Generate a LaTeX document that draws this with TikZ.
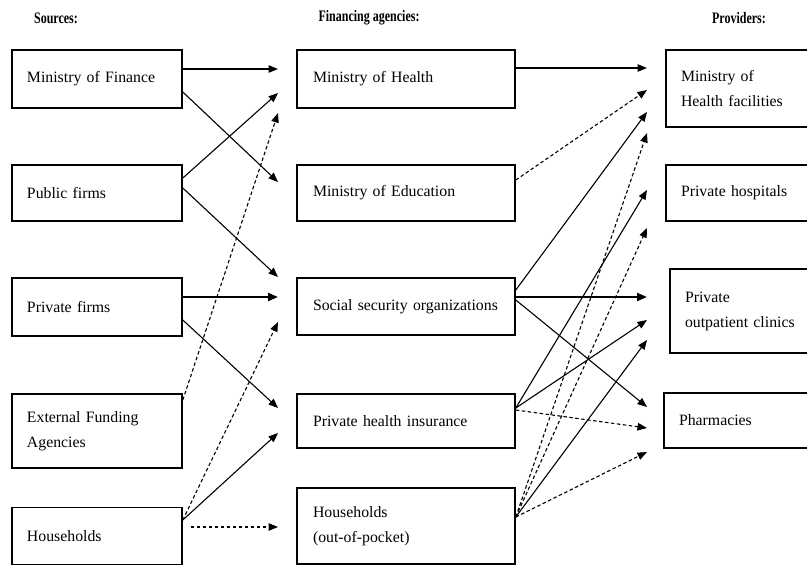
\documentclass[tikz,border=0pt]{standalone}
\usepackage{fontspec}
\setmainfont{Liberation Serif}
\usetikzlibrary{arrows.meta}
\tikzset{
  box/.style={draw, line width=1.6pt, rectangle, inner xsep=0pt, inner ysep=0pt, font=\fontsize{15.8}{25}\selectfont},
  lbox/.style={box, minimum width=170pt, text width=140pt, align=left},
  mbox/.style={box, minimum width=218pt, text width=186pt, align=left},
  rbox/.style={box, minimum width=170pt, text width=140pt, align=left},
  head/.style={font=\fontsize{16}{18}\selectfont\bfseries},
  flow/.style={line width=1.1pt, -{Triangle[length=9.5pt,width=7.5pt]}},
  thick flow/.style={line width=2.2pt, -{Triangle[length=10pt,width=8pt]}},
  dflow/.style={flow, dash pattern=on 3.5pt off 2.5pt},
}
\begin{document}
\begin{tikzpicture}[x=1pt,y=-1pt]
\useasboundingbox (0,0) rectangle (807,566);
\clip (0,0) rectangle (807,566);
% headings
\node[head] (h1) at (56,18) {\scalebox{0.75}[1]{Sources:}};
\node[head] (h2) at (369,18) {\scalebox{0.75}[1]{Financing agencies:}};
\node[head] (h3) at (739,18) {\scalebox{0.75}[1]{Providers:}};
% sources
\node[lbox, minimum height=58pt] (mf) at (97,79) {Ministry of Finance};
\node[lbox, minimum height=56pt] (pubf) at (97,193) {Public firms};
\node[lbox, minimum height=58pt] (prif) at (97,307) {Private firms};
\node[lbox, minimum height=74pt] (ext) at (97,431) {External Funding\\Agencies};
\node[lbox, minimum height=57pt] (hh) at (97,536) {Households};
% financing agencies
\node[mbox, minimum height=58pt] (mh) at (406,79) {Ministry of Health};
\node[mbox, minimum height=56pt] (me) at (406,193) {Ministry of Education};
\node[mbox, minimum height=57pt] (ss) at (406,306.5) {Social security organizations};
\node[mbox, minimum height=54pt] (phi) at (406,421) {Private health insurance};
\node[mbox, minimum height=76pt] (hoop) at (406,526) {Households\\(out-of-pocket)};
% providers
\node[rbox, minimum height=77pt] (mhf) at (751,88.5) {Ministry of\\Health facilities};
\node[rbox, minimum height=56pt] (ph) at (751,193) {Private hospitals};
\node[rbox, minimum height=84pt] (poc) at (755,311) {Private\\outpatient clinics};
\node[rbox, minimum height=55pt] (pharm) at (749,420.5) {Pharmacies};
% arrow tips (free ends)
\coordinate (a1) at (278,69);
\coordinate (a2) at (278,182);
\coordinate (a3) at (278,93);
\coordinate (a4) at (278,277);
\coordinate (a5) at (278,297);
\coordinate (a6) at (278,408);
\coordinate (a7) at (278,113);
\coordinate (a8) at (278,322);
\coordinate (a9) at (278,433);
\coordinate (a10) at (278,527);
\coordinate (b1) at (647,68);
\coordinate (b2) at (647,90);
\coordinate (b3) at (647,112);
\coordinate (b4) at (647,133);
\coordinate (b5) at (647,190);
\coordinate (b6) at (647,228);
\coordinate (b7) at (647,297);
\coordinate (b8) at (647,320);
\coordinate (b9) at (647,340);
\coordinate (b10) at (647,407);
\coordinate (b11) at (647,428);
\coordinate (b12) at (647,452);
% sources -> financing agencies
\draw[flow] ([yshift=10pt]mf.east) -- (a1);
\draw[flow] ([yshift=-13pt]mf.east) -- (a2);
\draw[flow] ([yshift=15pt]pubf.east) -- (a3);
\draw[flow] ([yshift=5pt]pubf.east) -- (a4);
\draw[thick flow] ([yshift=10pt]prif.east) -- (a5);
\draw[flow] ([yshift=-13pt]prif.east) -- (a6);
\draw[dflow] ([yshift=31pt]ext.east) -- (a7);
\draw[dflow] ([yshift=16pt]hh.east) -- (a8);
\draw[flow] ([yshift=16pt]hh.east) -- (a9);
\draw[dflow] ([xshift=8pt,yshift=9pt]hh.east) -- (a10);
% financing agencies -> providers
\draw[flow] ([yshift=11pt]mh.east) -- (b1);
\draw[dflow] ([yshift=13pt]me.east) -- (b2);
\draw[flow] ([yshift=16.5pt]ss.east) -- (b3);
\draw[dflow] ([yshift=9pt]hoop.east) -- (b4);
\draw[flow] ([yshift=13pt]phi.east) -- (b5);
\draw[dflow] ([yshift=9pt]hoop.east) -- (b6);
\draw[thick flow] ([yshift=9.5pt]ss.east) -- (b7);
\draw[flow] ([yshift=13pt]phi.east) -- (b8);
\draw[flow] ([yshift=9pt]hoop.east) -- (b9);
\draw[flow] ([yshift=6.5pt]ss.east) -- (b10);
\draw[dflow] ([yshift=11pt]phi.east) -- (b11);
\draw[dflow] ([yshift=9pt]hoop.east) -- (b12);
\end{tikzpicture}
\end{document}
